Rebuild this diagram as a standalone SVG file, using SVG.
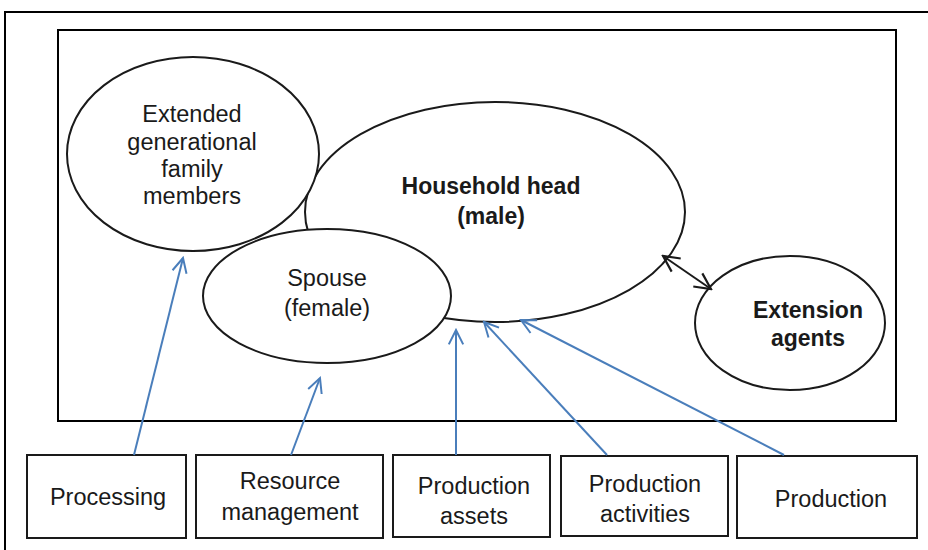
<svg xmlns="http://www.w3.org/2000/svg" width="928" height="550" viewBox="0 0 928 550">
<style>
.frame{fill:none;stroke:#000;stroke-width:2}
.ell{fill:#fff;stroke:#1a1a1a;stroke-width:2}
.box{fill:#fff;stroke:#1a1a1a;stroke-width:2}
.t{font-family:"Liberation Sans",Arial,sans-serif;font-size:23.5px;fill:#1a1a1a;text-anchor:middle}
.b{font-weight:bold;font-size:23px}
.blue{stroke:#4a7ebb;stroke-width:2;fill:none}
.blk{stroke:#1a1a1a;stroke-width:2;fill:none}
</style>
<defs>
<marker id="ab" viewBox="0 0 20 20" refX="18" refY="10" markerWidth="18" markerHeight="18" markerUnits="userSpaceOnUse" orient="auto">
<path d="M2,2 L18,10 L2,18" fill="none" stroke="#4a7ebb" stroke-width="2.2"/>
</marker>
<marker id="ak" viewBox="0 0 20 20" refX="18" refY="10" markerWidth="20" markerHeight="20" markerUnits="userSpaceOnUse" orient="auto-start-reverse">
<path d="M2,2 L18,10 L2,18" fill="none" stroke="#1a1a1a" stroke-width="2.2"/>
</marker>
</defs>
<rect width="928" height="550" fill="#fff"/>
<path class="frame" d="M5,550 V12 H928"/>
<rect class="frame" x="58" y="30" width="838" height="391"/>

<g id="household">
<ellipse class="ell" cx="495" cy="212" rx="190" ry="110"/>
<text class="t b" x="491" y="194">Household head</text>
<text class="t b" x="491" y="224">(male)</text>
</g>
<g id="extended">
<ellipse class="ell" cx="193" cy="154" rx="126" ry="97"/>
<text class="t" x="192" y="122">Extended</text>
<text class="t" x="192" y="150">generational</text>
<text class="t" x="192" y="177">family</text>
<text class="t" x="192" y="204">members</text>
</g>
<g id="spouse">
<ellipse class="ell" cx="327" cy="296" rx="124" ry="67"/>
<text class="t" x="327" y="286">Spouse</text>
<text class="t" x="327" y="316">(female)</text>
</g>
<g id="extension">
<ellipse class="ell" cx="790" cy="323" rx="95" ry="67"/>
<text class="t b" x="808" y="318">Extension</text>
<text class="t b" x="808" y="346">agents</text>
</g>

<g id="processing">
<rect class="box" x="27" y="455" width="159" height="83"/>
<text class="t" x="108" y="505">Processing</text>
</g>
<g id="resource">
<rect class="box" x="196" y="455" width="187" height="83"/>
<text class="t" x="290" y="489">Resource</text>
<text class="t" x="290" y="520">management</text>
</g>
<g id="assets">
<rect class="box" x="393" y="455" width="157" height="82"/>
<text class="t" x="474" y="494">Production</text>
<text class="t" x="474" y="524">assets</text>
</g>
<g id="activities">
<rect class="box" x="561" y="456" width="167" height="80"/>
<text class="t" x="645" y="492">Production</text>
<text class="t" x="645" y="522">activities</text>
</g>
<g id="production">
<rect class="box" x="737" y="456" width="180" height="82"/>
<text class="t" x="831" y="507">Production</text>
</g>

<g id="connectors">
<line class="blk" x1="663" y1="256" x2="711" y2="289" marker-start="url(#ak)" marker-end="url(#ak)"/>
<line class="blue" x1="134" y1="455" x2="183" y2="258" marker-end="url(#ab)"/>
<line class="blue" x1="291" y1="455" x2="320" y2="378" marker-end="url(#ab)"/>
<line class="blue" x1="456" y1="455" x2="456" y2="330" marker-end="url(#ab)"/>
<line class="blue" x1="607" y1="455" x2="484" y2="322" marker-end="url(#ab)"/>
<line class="blue" x1="784" y1="455" x2="521" y2="320" marker-end="url(#ab)"/>
</g>
</svg>
